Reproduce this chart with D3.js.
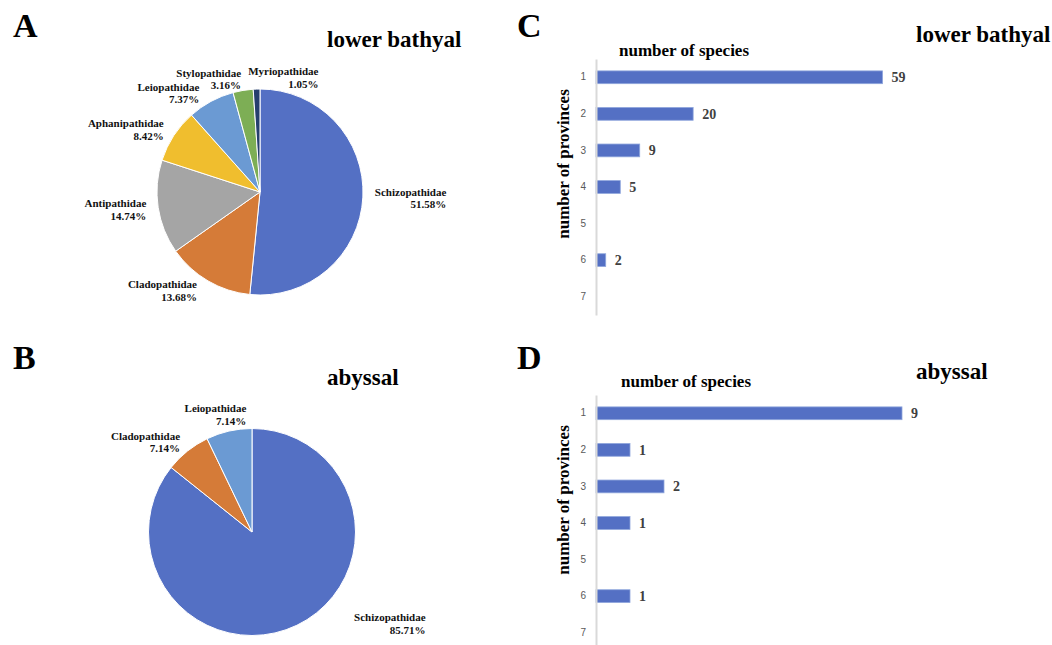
<!DOCTYPE html>
<html>
<head>
<meta charset="utf-8">
<script src="https://cdn.jsdelivr.net/npm/d3@7"></script>
<style>
  body { margin: 0; background: #fff; }
  svg { display: block; }
</style>
</head>
<body>
<div id="chart"></div>
<script>
// pie data: share of species per family (%)
const bathyalFamilies = ["Schizopathidae", "Cladopathidae", "Antipathidae", "Aphanipathidae", "Leiopathidae", "Stylopathidae", "Myriopathidae"];
const bathyalShares = [51.58, 13.68, 14.74, 8.42, 7.37, 3.16, 1.05];
const abyssalFamilies = ["Schizopathidae", "Cladopathidae", "Leiopathidae"];
const abyssalShares = [85.71, 7.14, 7.14];

// bar data: number of species found in n provinces
const provinces = ["1", "2", "3", "4", "5", "6", "7"];
const bathyalSpecies = [59, 20, 9, 5, null, 2, null];
const abyssalSpecies = [9, 1, 2, 1, null, 1, null];

const familyColors = {
  Schizopathidae: "#5470c4",
  Cladopathidae: "#d57b38",
  Antipathidae: "#a5a5a5",
  Aphanipathidae: "#f0be2e",
  Leiopathidae: "#6b9ad3",
  Stylopathidae: "#7dae55",
  Myriopathidae: "#263f6e"
};

const serif = '"Liberation Serif", "Times New Roman", serif';

const svg = d3.select("#chart").append("svg")
  .attr("width", 1052)
  .attr("height", 645);

function addText(x, y, txt, size) {
  return svg.append("text")
    .attr("x", x).attr("y", y)
    .style("font-family", serif)
    .style("font-weight", "bold")
    .style("font-size", size + "px")
    .attr("fill", "#000")
    .text(txt);
}

function drawPie(families, shares, opts) {
  const data = families.map((f, i) => ({ family: f, share: shares[i] }));
  const arcs = d3.pie().sort(null).value(d => d.share)(data);
  const arc = d3.arc().innerRadius(0).outerRadius(opts.r);

  const g = svg.append("g")
    .attr("transform", `translate(${opts.cx},${opts.cy})`);

  g.selectAll("path")
    .data(arcs)
    .join("path")
    .attr("d", arc)
    .attr("fill", d => familyColors[d.data.family])
    .attr("stroke", "#fff")
    .attr("stroke-width", 1);

  // labels outside end, two lines right aligned; flip side when lines collide
  const lr = opts.r + 12;
  const placed = [];
  arcs.forEach(a => {
    const mid = (a.startAngle + a.endAngle) / 2;
    const nudge = (opts.nudge || {})[a.data.family] || [0, 0];
    const px = Math.sin(mid) * lr + nudge[0];
    const py = -Math.cos(mid) * lr + nudge[1];

    const t = g.append("text")
      .style("font-family", serif)
      .style("font-weight", "bold")
      .style("font-size", "11px")
      .attr("fill", "#111")
      .attr("text-anchor", "end");
    const t1 = t.append("tspan").text(a.data.family);
    const t2 = t.append("tspan").text(a.data.share.toFixed(2) + "%");
    const w1 = t1.node().getComputedTextLength();
    const w2 = t2.node().getComputedTextLength();
    const w = Math.max(w1, w2);

    const lineBoxes = r => [
      { x0: r - w1, x1: r, y0: py - 12, y1: py - 1 },
      { x0: r - w2, x1: r, y0: py + 1, y1: py + 12 }
    ];
    const hits = r => lineBoxes(r).some(l => placed.some(b =>
      l.x0 < b.x1 && l.x1 > b.x0 && l.y0 < b.y1 && l.y1 > b.y0));

    const onRight = Math.sin(mid) >= 0;
    let right = onRight ? px + w : px;
    if (hits(right)) right = onRight ? px : px + w - 8;
    placed.push(...lineBoxes(right));

    t1.attr("x", right).attr("y", py - 2);
    t2.attr("x", right).attr("y", py + 10.5);
  });
}

function drawBars(values, opts) {
  const rows = provinces.map((p, i) => ({ p, v: values[i] }));
  const y = d3.scaleBand()
    .domain(provinces)
    .range([opts.top, opts.top + 256])
    .paddingInner(0.65)
    .paddingOuter(0.325);
  const x = d3.scaleLinear()
    .domain([0, opts.max])
    .range([opts.left, opts.left + 340]);

  const g = svg.append("g");

  const bars = rows.filter(d => d.v != null);

  g.selectAll("rect")
    .data(bars)
    .join("rect")
    .attr("x", x(0))
    .attr("y", d => y(d.p))
    .attr("width", d => x(d.v) - x(0))
    .attr("height", y.bandwidth())
    .attr("fill", "#5470c4")
    .attr("stroke", "#8fa6dc")
    .attr("stroke-width", 0.8);

  g.selectAll("text.val")
    .data(bars)
    .join("text")
    .attr("class", "val")
    .attr("x", d => x(d.v) + 9)
    .attr("y", d => y(d.p) + y.bandwidth() / 2)
    .attr("dy", "0.36em")
    .style("font-family", serif)
    .style("font-weight", "bold")
    .style("font-size", "14px")
    .attr("fill", "#404040")
    .text(d => d.v);

  const ax = svg.append("g")
    .attr("transform", `translate(${opts.left},0)`)
    .call(d3.axisLeft(y).tickSize(0).tickPadding(10));
  ax.select(".domain")
    .attr("stroke", "#d9d9d9")
    .attr("stroke-width", 2);
  ax.selectAll("text")
    .style("font-family", '"Liberation Sans", Arial, sans-serif')
    .style("font-size", "10px")
    .attr("fill", "#595959");

  addText(opts.left - 27, opts.top + 105, "number of provinces", 17)
    .attr("x", null).attr("y", null)
    .attr("text-anchor", "middle")
    .attr("transform", `translate(${opts.left - 27},${opts.top + 105}) rotate(-90)`);
}

// panel A
addText(13, 37, "A", 34);
addText(327, 47, "lower bathyal", 23);
drawPie(bathyalFamilies, bathyalShares, {
  cx: 260, cy: 192, r: 103,
  nudge: { Leiopathidae: [-6, 2], Cladopathidae: [-5, -1] }
});

// panel B
addText(13, 369, "B", 34);
addText(327, 385, "abyssal", 23);
drawPie(abyssalFamilies, abyssalShares, {
  cx: 252, cy: 532, r: 103.5,
  nudge: { Schizopathidae: [52, -13], Leiopathidae: [20, -5] }
});

// panel C
addText(517, 37, "C", 34);
addText(916, 42, "lower bathyal", 23);
addText(619, 56, "number of species", 17);
drawBars(bathyalSpecies, { left: 596, top: 59, max: 70 });

// panel D
addText(517, 369, "D", 34);
addText(916, 379, "abyssal", 23);
addText(621, 387, "number of species", 17);
drawBars(abyssalSpecies, { left: 596, top: 395, max: 10 });
</script>
</body>
</html>
